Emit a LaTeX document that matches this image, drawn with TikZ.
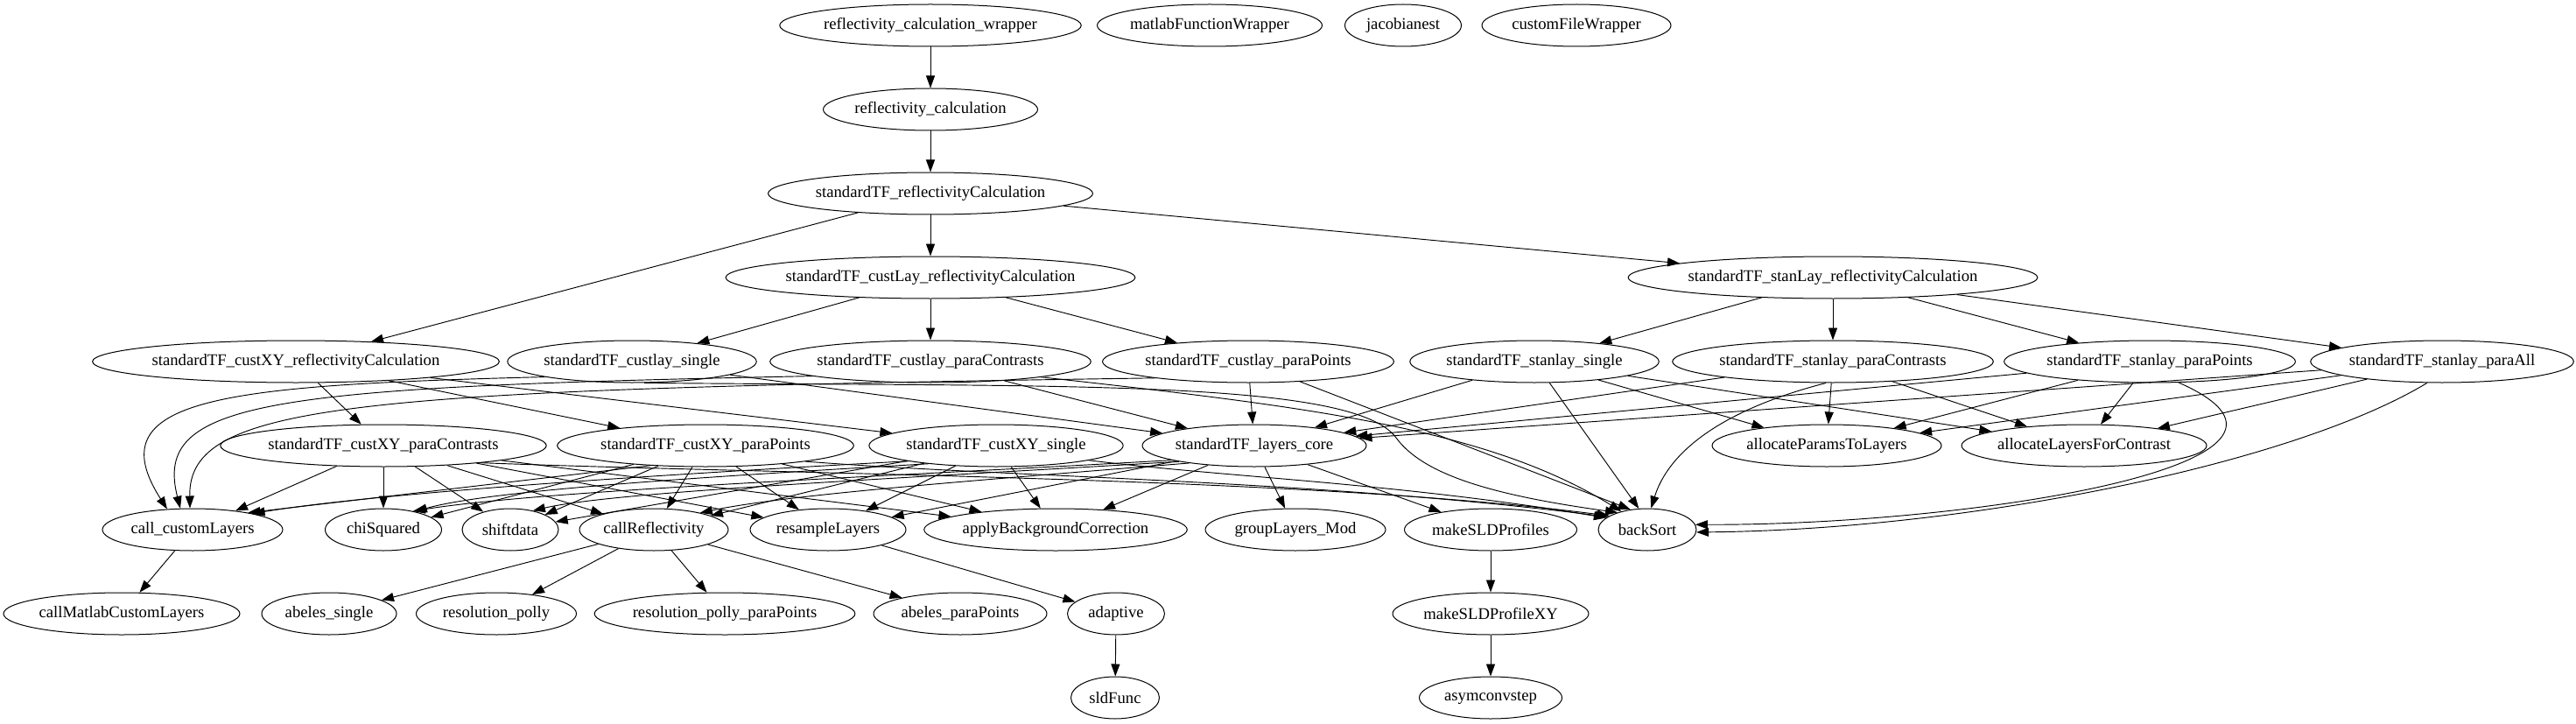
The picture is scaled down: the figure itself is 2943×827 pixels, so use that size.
\documentclass[tikz,border=0pt]{standalone}
\usepackage{fontspec}
\setmainfont{Liberation Serif}
\usetikzlibrary{shapes.geometric,arrows.meta}
\begin{document}
\begin{tikzpicture}[x=0.75pt,y=-0.75pt,
  n/.style={draw, ellipse, line width=0.75pt, inner sep=0pt, minimum height=36pt, font=\fontsize{14}{16}\selectfont},
  ew/.style={minimum width=#1*0.75pt},
  e/.style={line width=0.7pt, -{Triangle[length=10.5pt,width=7.5pt]}}]
\fill[white] (0,0) rectangle (2943,827);
\useasboundingbox (0,0) rectangle (2943,827);
% rank 0
\node[n,ew=332] (wrap) at (1063,29) {reflectivity\_calculation\_wrapper};
\node[n,ew=257] (mfw) at (1382,29) {matlabFunctionWrapper};
\node[n,ew=133] (jac) at (1603,29) {jacobianest};
\node[n,ew=216] (cfw) at (1801,29) {customFileWrapper};
% rank 1-3
\node[n,ew=245] (rc) at (1063,125) {reflectivity\_calculation};
\node[n,ew=356] (stf) at (1063,221) {standardTF\_reflectivityCalculation};
\node[n,ew=443] (clr) at (1063,317) {standardTF\_custLay\_reflectivityCalculation};
\node[n,ew=442] (slr) at (2094,317) {standardTF\_stanLay\_reflectivityCalculation};
% rank 4
\node[n,ew=443] (xyr) at (338,413) {standardTF\_custXY\_reflectivityCalculation};
\node[n,ew=280] (cls) at (722,413) {standardTF\_custlay\_single};
\node[n,ew=358] (clc) at (1063,413) {standardTF\_custlay\_paraContrasts};
\node[n,ew=325] (clp) at (1426,413) {standardTF\_custlay\_paraPoints};
\node[n,ew=280] (sls) at (1753,413) {standardTF\_stanlay\_single};
\node[n,ew=354] (slc) at (2094,413) {standardTF\_stanlay\_paraContrasts};
\node[n,ew=325] (slp) at (2456,413) {standardTF\_stanlay\_paraPoints};
\node[n,ew=294] (sla) at (2790,413) {standardTF\_stanlay\_paraAll};
% rank 5
\node[n,ew=360] (xyc) at (438,509) {standardTF\_custXY\_paraContrasts};
\node[n,ew=330] (xyp) at (806,509) {standardTF\_custXY\_paraPoints};
\node[n,ew=287] (xys) at (1138,509) {standardTF\_custXY\_single};
\node[n,ew=256] (core) at (1433,509) {standardTF\_layers\_core};
\node[n,ew=262] (ap) at (2087,509) {allocateParamsToLayers};
\node[n,ew=277] (al) at (2381,509) {allocateLayersForContrast};
% rank 6
\node[n,ew=206] (ccl) at (220,605) {call\_customLayers};
\node[n,ew=133] (chi) at (438,605) {chiSquared};
\node[n,ew=110] (shift) at (583,605) {shiftdata};
\node[n,ew=170] (cr) at (747,605) {callReflectivity};
\node[n,ew=178] (rs) at (946,605) {resampleLayers};
\node[n,ew=296] (abc) at (1206,605) {applyBackgroundCorrection};
\node[n,ew=206] (glm) at (1480,605) {groupLayers\_Mod};
\node[n,ew=197] (msp) at (1703,605) {makeSLDProfiles};
\node[n,ew=112] (bs) at (1882,605) {backSort};
% rank 7
\node[n,ew=270] (cmcl) at (139,701) {callMatlabCustomLayers};
\node[n,ew=154] (abs) at (376,701) {abeles\_single};
\node[n,ew=183] (rp) at (567,701) {resolution\_polly};
\node[n,ew=290] (rpp) at (828,701) {resolution\_polly\_paraPoints};
\node[n,ew=198] (abp) at (1097,701) {abeles\_paraPoints};
\node[n,ew=111] (adap) at (1275,701) {adaptive};
\node[n,ew=224] (mxy) at (1703,701) {makeSLDProfileXY};
% rank 8
\node[n,ew=101] (sld) at (1274,797) {sldFunc};
\node[n,ew=163] (asym) at (1703,797) {asymconvstep};
% edges top
\draw[e] (wrap) -- (rc);
\draw[e] (rc) -- (stf);
\draw[e] (stf) -- (xyr);
\draw[e] (stf) -- (clr);
\draw[e] (stf) -- (slr);
\draw[e] (clr) -- (cls);
\draw[e] (clr) -- (clc);
\draw[e] (clr) -- (clp);
\draw[e] (slr) -- (sls);
\draw[e] (slr) -- (slc);
\draw[e] (slr) -- (slp);
\draw[e] (slr) -- (sla);
\draw[e] (xyr) -- (xyc);
\draw[e] (xyr) -- (xyp);
\draw[e] (xyr) -- (xys);
% custlay
\draw[e] (cls.190) .. controls (250,440) and (110,455) .. (ccl.141);
\draw[e] (cls) -- (core);
\draw[e] (cls.-60) .. controls (1200,442) and (1545,432) .. (1595,500) .. controls (1625,541) and (1700,565) .. (bs.150);
\draw[e] (clc.187) .. controls (300,442) and (175,458) .. (ccl.120);
\draw[e] (clc) -- (core);
\draw[e] (clc.-8) .. controls (1500,465) and (1700,490) .. (bs.145);
\draw[e] (clp.190) .. controls (400,445) and (215,460) .. (ccl.97);
\draw[e] (clp) -- (core);
\draw[e] (clp) -- (bs.130);
% stanlay
\draw[e] (sls) -- (core);
\draw[e] (sls) -- (ap);
\draw[e] (sls) -- (al);
\draw[e] (sls) -- (bs.112);
\draw[e] (slc) -- (core);
\draw[e] (slc) -- (ap);
\draw[e] (slc) -- (al);
\draw[e] (slc.252) .. controls (1960,470) and (1905,520) .. (bs.80);
\draw[e] (slp) -- (core);
\draw[e] (slp) -- (ap);
\draw[e] (slp) -- (al);
\draw[e] (slp.-36) .. controls (2700,530) and (2250,600) .. (bs.6);
\draw[e] (sla) -- (core);
\draw[e] (sla) -- (ap);
\draw[e] (sla) -- (al);
\draw[e] (sla.235) .. controls (2620,530) and (2250,605) .. (bs.-3);
% custXY
\draw[e] (xyc) -- (ccl);
\draw[e] (xyc) -- (chi);
\draw[e] (xyc) -- (shift);
\draw[e] (xyc) -- (cr);
\draw[e] (xyc) -- (rs);
\draw[e] (xyc) -- (abc);
\draw[e] (xyc.-10) .. controls (900,542) and (1500,545) .. (bs.160);
\draw[e] (xyp.200) -- (ccl.17);
\draw[e] (xyp) -- (chi);
\draw[e] (xyp) -- (shift);
\draw[e] (xyp) -- (cr);
\draw[e] (xyp) -- (rs);
\draw[e] (xyp) -- (abc);
\draw[e] (xyp.-9) .. controls (1150,545) and (1500,548) .. (bs.162);
\draw[e] (xys.190) .. controls (700,545) and (420,565) .. (ccl.15);
\draw[e] (xys.195) .. controls (800,545) and (560,560) .. (chi.30);
\draw[e] (xys) -- (shift);
\draw[e] (xys) -- (cr);
\draw[e] (xys) -- (rs);
\draw[e] (xys) -- (abc);
\draw[e] (xys.-9) .. controls (1400,545) and (1600,552) .. (bs.164);
% core
\draw[e] (core.190) .. controls (1000,545) and (620,560) .. (chi.32);
\draw[e] (core.192) .. controls (1000,548) and (700,562) .. (shift.40);
\draw[e] (core.195) .. controls (1100,550) and (900,565) .. (cr.20);
\draw[e] (core) -- (rs);
\draw[e] (core) -- (abc);
\draw[e] (core) -- (glm);
\draw[e] (core) -- (msp);
% lower
\draw[e] (ccl) -- (cmcl);
\draw[e] (cr) -- (abs);
\draw[e] (cr) -- (rp);
\draw[e] (cr) -- (rpp);
\draw[e] (cr) -- (abp);
\draw[e] (rs) -- (adap);
\draw[e] (adap) -- (sld);
\draw[e] (msp) -- (mxy);
\draw[e] (mxy) -- (asym);
\end{tikzpicture}
\end{document}
